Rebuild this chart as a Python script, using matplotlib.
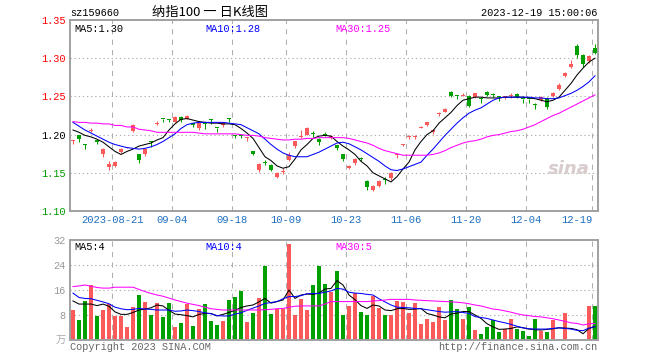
import numpy as np
import pandas as pd
import matplotlib
matplotlib.use('Agg')
import matplotlib.pyplot as plt

# trading days shown (Sep 29 - Oct 6 market holiday)
holidays = ['2023-09-29', '2023-10-02', '2023-10-03', '2023-10-04', '2023-10-05', '2023-10-06']
days = pd.bdate_range('2023-08-10', '2023-12-19')
days = days[~days.isin(pd.to_datetime(holidays))]

tick_dates = ['2023-08-21', '2023-09-04', '2023-09-18', '2023-10-09', '2023-10-23',
              '2023-11-06', '2023-11-20', '2023-12-04', '2023-12-19']
tick_labels = ['2023-08-21', '09-04', '09-18', '10-09', '10-23', '11-06', '11-20', '12-04', '12-19']

opens = [1.192, 1.199, 1.188, 1.205, 1.193, 1.174, 1.157, 1.159, 1.177, 1.182,
         1.205, 1.174, 1.174, 1.191, 1.214, 1.221, 1.220, 1.217, 1.223, 1.221,
         1.215, 1.209, 1.215, 1.220, 1.209, 1.212, 1.222, 1.199, 1.199, 1.196,
         1.178, 1.154, 1.164, 1.160, 1.145, 1.151, 1.167, 1.185, 1.197, 1.200,
         1.202, 1.194, 1.201, 1.195, 1.186, 1.175, 1.156, 1.163, 1.169, 1.139,
         1.127, 1.133, 1.141, 1.143, 1.173, 1.186, 1.197, 1.197, 1.209, 1.212,
         1.203, 1.227, 1.230, 1.256, 1.251, 1.251, 1.251, 1.249, 1.248, 1.256,
         1.253, 1.250, 1.248, 1.250, 1.253, 1.247, 1.247, 1.240, 1.245, 1.248,
         1.250, 1.260, 1.277, 1.288, 1.316, 1.304, 1.296, 1.313]
closes = [1.193, 1.194, 1.187, 1.206, 1.190, 1.181, 1.161, 1.164, 1.181, 1.183,
          1.213, 1.167, 1.181, 1.190, 1.215, 1.220, 1.219, 1.223, 1.219, 1.224,
          1.213, 1.215, 1.214, 1.219, 1.208, 1.215, 1.221, 1.198, 1.198, 1.197,
          1.175, 1.162, 1.163, 1.154, 1.150, 1.152, 1.173, 1.191, 1.198, 1.209,
          1.201, 1.190, 1.200, 1.198, 1.182, 1.168, 1.159, 1.168, 1.168, 1.132,
          1.133, 1.139, 1.140, 1.150, 1.174, 1.187, 1.198, 1.198, 1.210, 1.216,
          1.206, 1.228, 1.234, 1.251, 1.250, 1.252, 1.238, 1.254, 1.247, 1.252,
          1.252, 1.249, 1.250, 1.251, 1.249, 1.246, 1.246, 1.239, 1.249, 1.236,
          1.255, 1.265, 1.281, 1.293, 1.304, 1.293, 1.303, 1.307]
highs = [1.193, 1.200, 1.188, 1.208, 1.194, 1.182, 1.166, 1.165, 1.182, 1.184,
         1.214, 1.175, 1.182, 1.191, 1.218, 1.221, 1.221, 1.224, 1.224, 1.226,
         1.215, 1.216, 1.215, 1.220, 1.209, 1.216, 1.222, 1.199, 1.199, 1.197,
         1.178, 1.163, 1.167, 1.161, 1.151, 1.156, 1.177, 1.192, 1.206, 1.210,
         1.205, 1.195, 1.204, 1.199, 1.187, 1.175, 1.160, 1.169, 1.171, 1.140,
         1.134, 1.140, 1.145, 1.151, 1.174, 1.188, 1.199, 1.199, 1.211, 1.217,
         1.207, 1.229, 1.235, 1.257, 1.251, 1.254, 1.252, 1.255, 1.248, 1.257,
         1.255, 1.250, 1.251, 1.254, 1.254, 1.247, 1.247, 1.242, 1.250, 1.249,
         1.256, 1.267, 1.282, 1.297, 1.319, 1.305, 1.304, 1.318]
lows = [1.188, 1.190, 1.181, 1.203, 1.188, 1.171, 1.154, 1.157, 1.176, 1.182,
        1.203, 1.163, 1.172, 1.184, 1.212, 1.217, 1.217, 1.216, 1.216, 1.220,
        1.210, 1.206, 1.207, 1.214, 1.204, 1.210, 1.217, 1.195, 1.195, 1.192,
        1.173, 1.151, 1.160, 1.152, 1.143, 1.148, 1.165, 1.183, 1.195, 1.199,
        1.197, 1.187, 1.198, 1.194, 1.180, 1.166, 1.155, 1.160, 1.166, 1.128,
        1.126, 1.132, 1.135, 1.141, 1.169, 1.185, 1.194, 1.194, 1.208, 1.211,
        1.201, 1.225, 1.229, 1.249, 1.246, 1.250, 1.236, 1.248, 1.242, 1.250,
        1.249, 1.244, 1.247, 1.248, 1.248, 1.242, 1.242, 1.233, 1.244, 1.233,
        1.249, 1.259, 1.276, 1.287, 1.300, 1.288, 1.294, 1.306]

ma5 = [1.206, 1.203, 1.199, 1.197, 1.194, 1.190, 1.184, 1.178, 1.174, 1.178,
       1.181, 1.185, 1.187, 1.189, 1.193, 1.196, 1.206, 1.214, 1.220, 1.221,
       1.219, 1.217, 1.216, 1.215, 1.215, 1.214, 1.214, 1.213, 1.208, 1.202,
       1.195, 1.183, 1.171, 1.166, 1.159, 1.156, 1.158, 1.168, 1.180, 1.187,
       1.195, 1.198, 1.199, 1.198, 1.191, 1.185, 1.180, 1.174, 1.165, 1.159,
       1.150, 1.146, 1.142, 1.138, 1.145, 1.155, 1.164, 1.180, 1.191, 1.200,
       1.205, 1.215, 1.222, 1.229, 1.238, 1.245, 1.247, 1.249, 1.249, 1.248,
       1.248, 1.248, 1.249, 1.249, 1.249, 1.249, 1.248, 1.247, 1.245, 1.243,
       1.245, 1.249, 1.258, 1.267, 1.278, 1.287, 1.295, 1.300]
ma10 = [1.216, 1.211, 1.206, 1.202, 1.198, 1.194, 1.190, 1.187, 1.185, 1.183,
        1.182, 1.181, 1.182, 1.184, 1.187, 1.191, 1.196, 1.201, 1.208, 1.213,
        1.215, 1.216, 1.216, 1.216, 1.216, 1.216, 1.215, 1.214, 1.213, 1.209,
        1.205, 1.201, 1.194, 1.187, 1.181, 1.176, 1.173, 1.171, 1.171, 1.171,
        1.174, 1.177, 1.181, 1.185, 1.189, 1.190, 1.188, 1.184, 1.180, 1.175,
        1.170, 1.165, 1.159, 1.154, 1.153, 1.155, 1.158, 1.161, 1.164, 1.173,
        1.181, 1.190, 1.199, 1.207, 1.215, 1.222, 1.228, 1.232, 1.235, 1.240,
        1.245, 1.248, 1.249, 1.249, 1.249, 1.249, 1.249, 1.248, 1.248, 1.247,
        1.247, 1.248, 1.251, 1.254, 1.258, 1.263, 1.269, 1.277]
ma30 = [1.217, 1.216, 1.216, 1.215, 1.215, 1.214, 1.214, 1.212, 1.212, 1.210,
        1.210, 1.207, 1.206, 1.205, 1.203, 1.203, 1.203, 1.203, 1.203, 1.203,
        1.203, 1.202, 1.201, 1.201, 1.201, 1.201, 1.201, 1.201, 1.200, 1.199,
        1.199, 1.198, 1.196, 1.195, 1.194, 1.193, 1.193, 1.194, 1.194, 1.195,
        1.195, 1.196, 1.196, 1.196, 1.196, 1.196, 1.195, 1.193, 1.191, 1.189,
        1.186, 1.182, 1.179, 1.177, 1.175, 1.173, 1.173, 1.173, 1.173, 1.173,
        1.174, 1.176, 1.179, 1.183, 1.186, 1.189, 1.191, 1.192, 1.194, 1.197,
        1.199, 1.200, 1.202, 1.204, 1.205, 1.207, 1.210, 1.213, 1.217, 1.221,
        1.225, 1.228, 1.232, 1.236, 1.240, 1.244, 1.248, 1.252]

# volume in 万
volume = [9.6, 6.4, 12.5, 17.6, 7.7, 9.6, 11.5, 7.7, 7.7, 4.2,
          10.6, 14.4, 12.2, 8.0, 11.8, 7.4, 11.8, 4.2, 5.4, 11.6,
          4.5, 9.9, 11.5, 6.1, 4.8, 6.1, 12.8, 13.8, 15.7, 5.8,
          8.6, 13.4, 23.8, 8.3, 9.9, 9.9, 30.7, 8.0, 13.1, 9.6,
          17.6, 23.8, 18.0, 15.5, 22.1, 8.0, 10.9, 14.9, 9.1, 8.0,
          14.2, 10.2, 8.0, 8.0, 12.5, 12.2, 8.6, 11.8, 5.1, 6.7,
          5.8, 10.6, 6.4, 12.8, 9.9, 6.7, 10.6, 3.2, 1.9, 4.2,
          6.4, 2.6, 3.5, 6.7, 3.5, 2.9, 1.3, 6.7, 2.9, 2.6,
          6.4, 0.3, 8.6, 0.3, 0.3, 0.3, 10.9, 10.9]
vma5 = [12.5, 11.5, 11.5, 11.5, 11.0, 11.5, 10.8, 9.0, 8.2, 8.2,
        8.8, 9.6, 9.9, 10.3, 11.2, 10.9, 9.5, 8.3, 8.1, 7.8,
        7.4, 8.2, 8.5, 8.5, 7.7, 8.2, 8.8, 9.5, 10.4, 10.9,
        11.2, 12.2, 13.3, 11.8, 12.3, 12.8, 16.0, 13.3, 14.4, 14.7,
        14.6, 15.0, 16.3, 16.5, 19.0, 17.6, 14.4, 12.9, 11.0, 10.1,
        11.2, 10.9, 9.6, 9.4, 10.0, 10.1, 9.8, 9.9, 10.1, 8.5,
        8.0, 7.4, 7.1, 8.3, 8.6, 9.1, 9.1, 8.0, 6.9, 5.2,
        4.2, 3.4, 3.5, 3.7, 4.2, 3.9, 3.5, 3.3, 3.2, 3.4,
        3.6, 3.9, 3.8, 3.7, 3.3, 2.0, 3.7, 4.3]
vma10 = [15.0, 13.6, 13.3, 13.2, 12.7, 12.2, 11.6, 10.5, 10.0, 9.7,
         9.8, 10.1, 9.9, 9.8, 9.6, 9.6, 9.6, 9.2, 9.3, 9.6,
         9.4, 9.1, 8.7, 8.4, 7.8, 7.7, 7.7, 8.3, 8.7, 9.5,
         10.2, 10.9, 11.7, 12.0, 12.3, 13.2, 13.9, 13.9, 14.2, 14.8,
         14.9, 14.9, 15.3, 15.7, 16.5, 16.3, 15.3, 15.0, 14.9, 14.6,
         14.4, 13.2, 12.2, 11.2, 10.5, 10.4, 10.3, 10.1, 10.0, 9.7,
         9.4, 9.1, 8.9, 9.0, 9.1, 8.8, 8.5, 7.5, 7.2, 6.9,
         6.4, 5.9, 5.5, 5.0, 4.4, 3.9, 3.6, 3.5, 3.5, 3.5,
         3.7, 3.9, 3.7, 3.5, 3.1, 3.0, 3.8, 4.3]
vma30 = [17.1, 17.3, 17.6, 17.2, 16.8, 16.6, 16.6, 16.9, 16.9, 16.9,
         16.9, 16.2, 15.5, 14.9, 14.4, 14.0, 13.4, 12.8, 12.3, 11.8,
         11.4, 11.0, 10.5, 10.0, 9.8, 9.6, 9.6, 9.6, 9.6, 9.6,
         9.6, 9.6, 9.7, 9.8, 10.0, 10.1, 10.5, 10.8, 10.9, 10.9,
         10.9, 10.9, 11.5, 12.3, 12.3, 12.3, 12.3, 12.3, 12.3, 12.3,
         12.5, 12.6, 12.8, 13.0, 13.0, 13.0, 13.0, 12.8, 12.7, 12.6,
         12.5, 12.4, 12.3, 12.2, 12.1, 11.9, 11.6, 11.2, 10.9, 10.4,
         9.9, 9.7, 9.3, 8.9, 8.4, 8.0, 7.8, 7.5, 7.4, 7.1,
         6.8, 6.4, 6.0, 5.5, 5.3, 4.8, 5.2, 5.3]

price_ticks = [1.10, 1.15, 1.20, 1.25, 1.30, 1.35]
price_tick_colors = ['#009900', '#009900', 'black', '#ff0000', '#ff0000', '#ff0000']
vol_ticks = [8, 16, 24, 32]

RED = '#fa5a5a'
GREEN = '#00a000'
GRID = '#b0b0b0'
mono = 'Liberation Mono'
LW = 0.75

o = np.array(opens)
c = np.array(closes)
x = np.arange(len(days))
up = c >= o
colors = np.where(up, RED, GREEN)
tick_pos = [days.get_loc(pd.Timestamp(d)) - 0.45 for d in tick_dates]

fig = plt.figure(figsize=(6.6, 3.6), dpi=100)
ax = fig.add_axes([70 / 660, 1 - 211 / 360, 528 / 660, 191 / 360])
axv = fig.add_axes([70 / 660, 1 - 340 / 360, 528 / 660, 100 / 360])

for a in (ax, axv):
    a.set_xlim(-0.5, len(days) - 0.5)
    for s in a.spines.values():
        s.set_color('#a0a0a0')
        s.set_linewidth(1.4)
    a.tick_params(length=0)
    for p in tick_pos:
        a.axvline(p, color=GRID, lw=0.75, ls=(0, (5, 5)), zorder=0)

# candles
ax.vlines(x, lows, highs, colors=colors, lw=LW, zorder=2)
body = np.maximum(np.abs(c - o), 0.0013)
ax.bar(x, body, bottom=np.minimum(o, c), width=0.83, color=colors, lw=0, zorder=3)
ax.plot(x, ma5, color='black', lw=LW, zorder=4)
ax.plot(x, ma10, color='#0000ff', lw=LW, zorder=4)
ax.plot(x, ma30, color='#ff00ff', lw=LW, zorder=4)
ax.set_ylim(1.10, 1.35)
for t in price_ticks[1:-1]:
    ax.axhline(t, color=GRID, lw=0.8, ls=(0, (1.2, 2.5)), zorder=0)
ax.set_yticks(price_ticks)
ax.set_yticklabels(['%.2f' % t for t in price_ticks], fontfamily=mono, fontsize=7.4)
for lab, col in zip(ax.get_yticklabels(), price_tick_colors):
    lab.set_color(col)
ax.tick_params(axis='y', pad=3)
ax.set_xticks(tick_pos)
ax.set_xticklabels(tick_labels, fontfamily=mono, fontsize=7.6, color='#1f6fc0')
ax.get_xticklabels()[-1].set_horizontalalignment('right')
ax.tick_params(axis='x', pad=3)

ax.text(0.008, 0.955, 'MA5:%.2f' % ma5[-1], transform=ax.transAxes, color='black',
        fontfamily=mono, fontsize=7.4, va='center')
ax.text(0.256, 0.955, 'MA10:%.2f' % ma10[-1], transform=ax.transAxes, color='#0000ff',
        fontfamily=mono, fontsize=7.4, va='center')
ax.text(0.502, 0.955, 'MA30:%.2f' % ma30[-1], transform=ax.transAxes, color='#ff00ff',
        fontfamily=mono, fontsize=7.4, va='center')
ax.text(0.985, 0.22, 'sina', transform=ax.transAxes, color='#d8cccc', fontsize=13,
        fontweight='bold', style='italic', ha='right', va='center', zorder=1)

# volume
axv.bar(x, volume, width=0.83, color=colors, lw=0, zorder=2)
axv.plot(x, vma5, color='black', lw=LW, zorder=4)
axv.plot(x, vma10, color='#0000ff', lw=LW, zorder=4)
axv.plot(x, vma30, color='#ff00ff', lw=LW, zorder=4)
axv.set_ylim(0, 32)
for t in vol_ticks[:-1]:
    axv.axhline(t, color=GRID, lw=0.8, ls=(0, (1.2, 2.5)), zorder=0)
axv.set_yticks(vol_ticks)
axv.set_yticklabels([str(t) for t in vol_ticks], fontfamily=mono, fontsize=7.4, color='#999999')
axv.set_xticks([])
axv.text(0.008, 0.93, 'MA5:%d' % round(vma5[-1]), transform=axv.transAxes, color='black',
         fontfamily=mono, fontsize=7.4, va='center')
axv.text(0.256, 0.93, 'MA10:%d' % round(vma10[-1]), transform=axv.transAxes, color='#0000ff',
         fontfamily=mono, fontsize=7.4, va='center')
axv.text(0.502, 0.93, 'MA30:%d' % round(vma30[-1]), transform=axv.transAxes, color='#ff00ff',
         fontfamily=mono, fontsize=7.4, va='center')
fig.text(66 / 660, 1 - 340 / 360, '万', color='#aaaaaa', fontsize=7.4, ha='right', va='center',
         family=['Noto Sans CJK SC', 'DejaVu Sans'])

# header / footer
fig.text(70 / 660, 1 - 13 / 360, 'sz159660', fontfamily=mono, fontsize=7.4, va='center')
fig.text(210 / 660, 1 - 12 / 360, '纳指100 一 日K线图', fontsize=9.5, ha='center', va='center',
         family=['Noto Sans CJK SC', 'DejaVu Sans'])
fig.text(597 / 660, 1 - 13 / 360, '2023-12-19 15:00:06', fontfamily=mono, fontsize=7.4,
         ha='right', va='center')
fig.text(70 / 660, 1 - 347 / 360, 'Copyright 2023 SINA.COM', fontfamily=mono, fontsize=7.4,
         color='#666666', va='center')
fig.text(597 / 660, 1 - 347 / 360, 'http://finance.sina.com.cn', fontfamily=mono, fontsize=7.4,
         color='#666666', ha='right', va='center')

fig.savefig('out.png', dpi=100)
